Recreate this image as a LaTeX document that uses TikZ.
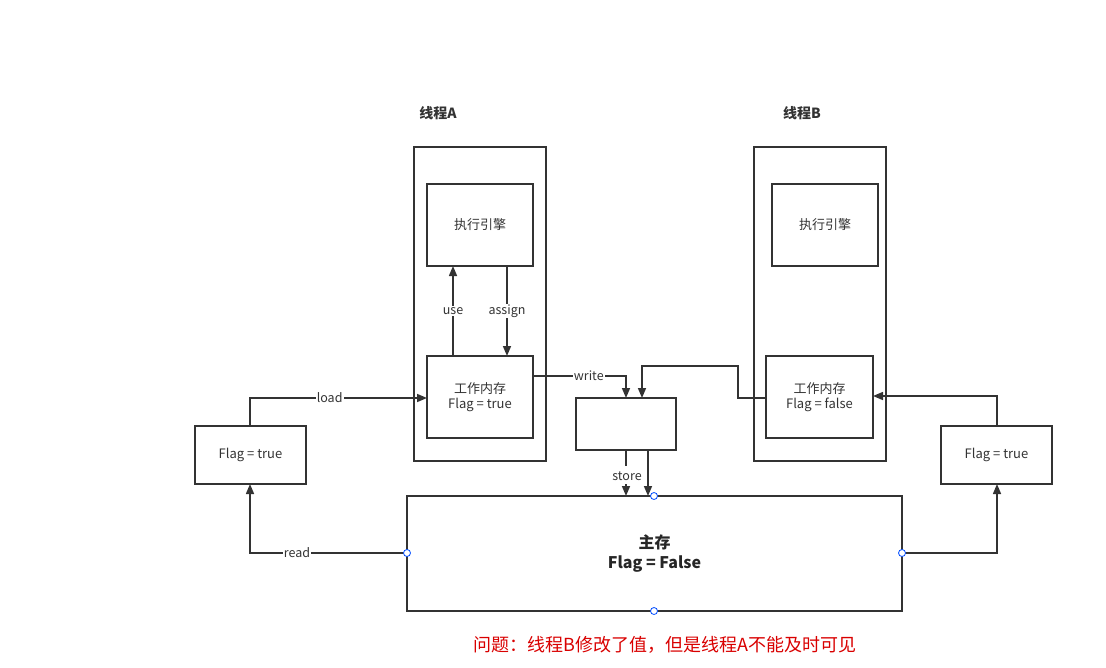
\documentclass[tikz,border=0pt]{standalone}
\usepackage{fontspec}
\setmainfont{Noto Sans CJK SC}
\usetikzlibrary{arrows.meta}
\begin{document}
\begin{tikzpicture}[x=1pt,y=-1pt,
  bx/.style={draw=black!80,line width=1.5pt},
  ar/.style={draw=black!80,line width=1.5pt,-{Triangle[length=10pt,width=8pt]}},
  ln/.style={draw=black!80,line width=1.5pt},
  lab/.style={fill=white,inner sep=1pt,font=\fontsize{12.5}{14}\selectfont,text=black!80},
  txt/.style={font=\fontsize{13}{15.5}\selectfont,text=black!80,align=center},
  pt/.style={draw=blue!70!cyan,fill=white,line width=0.8pt,circle,inner sep=0pt,minimum size=7pt}]
\useasboundingbox (0,0) rectangle (1106,667);
\node[font=\bfseries\fontsize{14}{16}\selectfont,text=black!80] (tA) at (438,113) {线程A};
\node[font=\bfseries\fontsize{14}{16}\selectfont,text=black!80] (tB) at (802,113) {线程B};
\draw[bx] (414,147) rectangle (546,461);
\draw[bx] (754,147) rectangle (886,461);
\draw[bx] (427,184) rectangle (533,266) node[txt,midway] (eA) {执行引擎};
\draw[bx] (427,356) rectangle (533,438) node[txt,midway] (wA) {工作内存\\Flag = true};
\draw[bx] (772,184) rectangle (878,266) node[txt,midway] (eB) {执行引擎};
\draw[bx] (766,356) rectangle (873,438) node[txt,midway] (wB) {工作内存\\Flag = false};
\draw[bx] (195,426) rectangle (306,484) node[txt,midway] (fL) {Flag = true};
\draw[bx] (941,426) rectangle (1052,484) node[txt,midway] (fR) {Flag = true};
\draw[bx] (576,398) rectangle (676,450) node[midway] (mid) {};
\draw[bx] (407,496) rectangle (902,611) node[midway,font=\bfseries\fontsize{16}{20}\selectfont,text=black!85,align=center] (main) {主存\\Flag = False};
\draw[ar] (453,356) -- node[lab] {use} (453,266);
\draw[ar] (507,266) -- node[lab] {assign} (507,356);
\draw[ar] (250,426) -- (250,398) -- node[lab,pos=0.45] {load} (427,398);
\draw[ar] (533,376) -- node[lab,pos=0.6] {write} (626,376) -- (626,398);
\draw[ar] (766,398) -- (738,398) -- (738,366) -- (642,366) -- (642,398);
\draw[ln] (626,450) -- (626,466);
\node[lab] (st) at (627,476) {store};
\draw[ar] (626,484) -- (626,496);
\draw[ar] (648,450) -- (648,496);
\draw[ar] (407,553) -- node[lab,pos=0.7] {read} (250,553) -- (250,484);
\draw[ar] (902,553) -- (997,553) -- (997,484);
\draw[ar] (997,426) -- (997,396) -- (873,396);
\node[pt] at (654,496) {};
\node[pt] at (654,611) {};
\node[pt] at (407,553) {};
\node[pt] at (902,553) {};
\node[font=\fontsize{18}{22}\selectfont,text=red!85!black] (note) at (665,645) {问题：线程B修改了值，但是线程A不能及时可见};
\end{tikzpicture}
\end{document}
